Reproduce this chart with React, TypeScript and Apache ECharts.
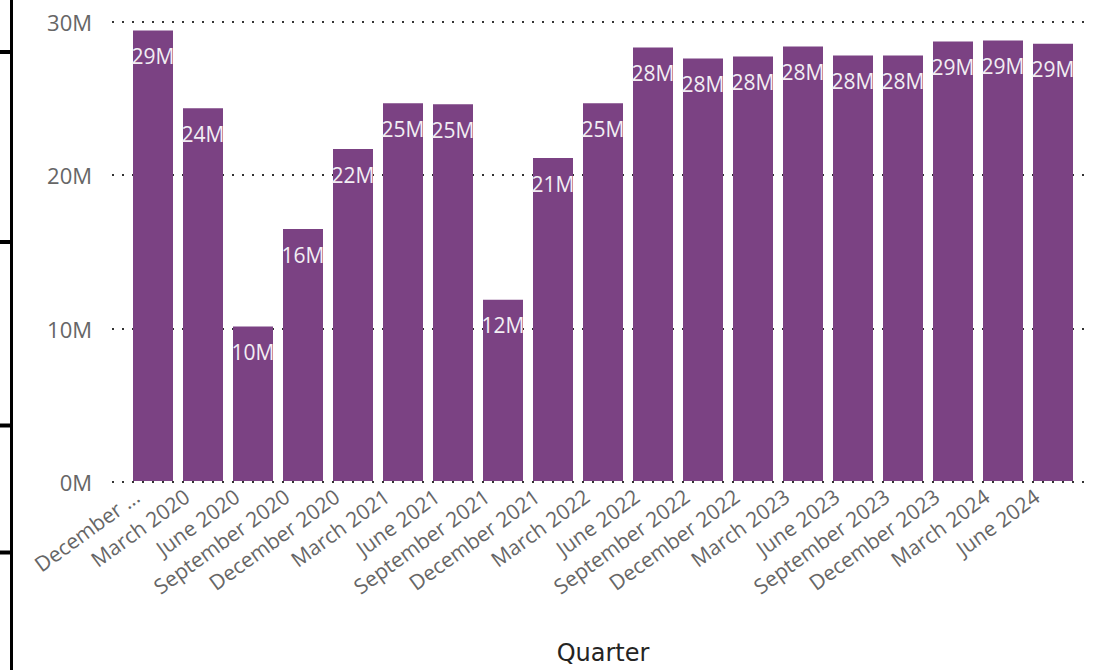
import React, { useEffect, useRef } from "react";
import * as echarts from "echarts";

const quarters = [
  "December 2019", "March 2020", "June 2020", "September 2020", "December 2020",
  "March 2021", "June 2021", "September 2021", "December 2021", "March 2022",
  "June 2022", "September 2022", "December 2022", "March 2023", "June 2023",
  "September 2023", "December 2023", "March 2024", "June 2024",
];
const values = [
  29.41e6, 24.33e6, 10.08e6, 16.45e6, 21.67e6,
  24.66e6, 24.6e6, 11.84e6, 21.08e6, 24.66e6,
  28.3e6, 27.59e6, 27.72e6, 28.37e6, 27.78e6,
  27.78e6, 28.69e6, 28.76e6, 28.55e6,
];
const yTicks = { min: 0, max: 30e6, interval: 10e6 };

const LABEL_FONT = "'Open Sans', 'Noto Sans', sans-serif";

export default function App() {
  const ref = useRef<HTMLDivElement>(null);
  useEffect(() => {
    document.body.style.margin = "0";
    const chart = echarts.init(ref.current!, null, { renderer: "svg" });
    const dark = "#000000";
    chart.setOption({
      animation: false,
      backgroundColor: "#ffffff",
      grid: [
        { left: 128, right: 18, top: 21.5, bottom: 188 },
        { left: 112, right: 12, top: 21.5, bottom: 188 },
      ],
      xAxis: [
        {
          type: "category",
          gridIndex: 0,
          data: quarters,
          axisLine: { show: false },
          axisTick: { show: false },
          axisLabel: {
            rotate: 36,
            interval: 0,
            margin: 1,
            padding: [0, 20, 0, 0],
            fontFamily: LABEL_FONT,
            fontSize: 21,
            color: "#666666",
            formatter: (v: string, i: number) => (i === 0 ? "December ..." : v),
          },
          name: "Quarter",
          nameLocation: "middle",
          nameGap: 160,
          nameTextStyle: {
            fontFamily: "'DejaVu Sans', sans-serif",
            fontSize: 24,
            color: "#252423",
          },
        },
        { type: "value", gridIndex: 1, show: false, min: 0, max: 1 },
      ],
      yAxis: [
        { type: "value", gridIndex: 0, show: false, ...yTicks },
        {
          type: "value",
          gridIndex: 1,
          ...yTicks,
          axisLine: { show: false },
          axisTick: { show: false },
          axisLabel: {
            margin: 20,
            fontFamily: LABEL_FONT,
            fontSize: 22,
            color: "#666666",
            formatter: (v: number) => `${Math.round(v / 1e6)}M`,
          },
          splitLine: {
            show: true,
            lineStyle: { color: "#333333", width: 2, type: [2, 8] },
          },
        },
      ],
      series: [
        {
          type: "bar",
          xAxisIndex: 0,
          yAxisIndex: 0,
          data: values,
          barWidth: 40,
          itemStyle: { color: "#7B4283" },
          label: {
            show: true,
            position: "insideTop",
            distance: 15,
            fontFamily: LABEL_FONT,
            fontSize: 21,
            color: "#F2EEF3",
            formatter: (p: any) => `${Math.round(p.value / 1e6)}M`,
          },
        },
      ],
      graphic: [
        { type: "line", shape: { x1: 11.5, y1: 0, x2: 11.5, y2: 670 }, style: { stroke: dark, lineWidth: 3 } },
        { type: "line", shape: { x1: 0, y1: 52, x2: 12, y2: 52 }, style: { stroke: dark, lineWidth: 4 } },
        { type: "line", shape: { x1: 0, y1: 242, x2: 12, y2: 242 }, style: { stroke: dark, lineWidth: 4 } },
        { type: "line", shape: { x1: 0, y1: 425.5, x2: 12, y2: 425.5 }, style: { stroke: dark, lineWidth: 4 } },
        { type: "line", shape: { x1: 0, y1: 552.5, x2: 12, y2: 552.5 }, style: { stroke: dark, lineWidth: 4 } },
      ],
    });
    return () => chart.dispose();
  }, []);
  return <div ref={ref} style={{ width: 1096, height: 670 }} />;
}
